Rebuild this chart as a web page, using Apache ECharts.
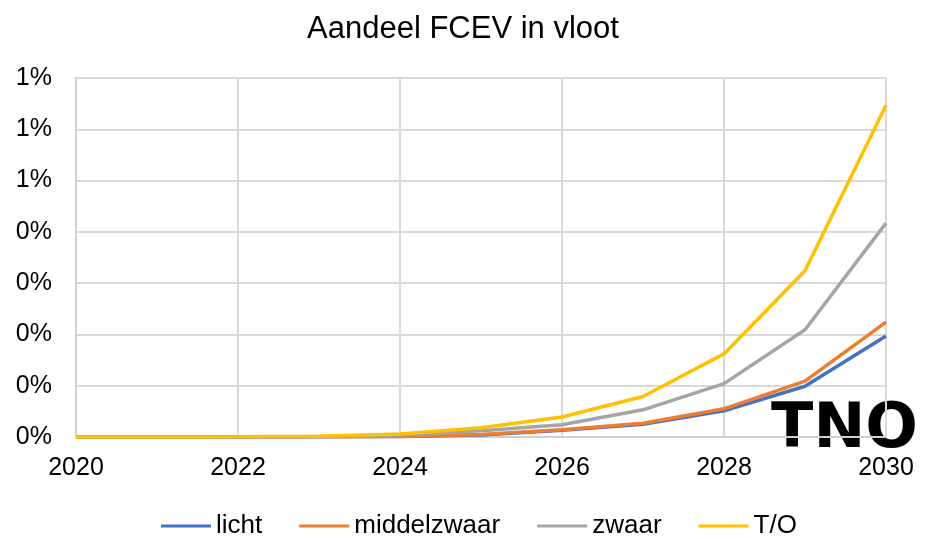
<!DOCTYPE html>
<html>
<head>
<meta charset="utf-8">
<script src="https://cdn.jsdelivr.net/npm/echarts@6/dist/echarts.min.js"></script>
<style>
  html, body { margin: 0; padding: 0; background: #fff; }
  #chart { width: 926px; height: 539px; }
</style>
</head>
<body>
<div id="chart"></div>
<script>
// share of FCEV in fleet, in percent
const years = ['2020', '2021', '2022', '2023', '2024', '2025', '2026', '2027', '2028', '2029', '2030']
const licht = [0, 0, 0.001, 0.003, 0.01, 0.04, 0.13, 0.25, 0.51, 0.99, 1.97]
const middelzwaar = [0, 0, 0.001, 0.003, 0.012, 0.05, 0.14, 0.27, 0.55, 1.09, 2.24]
const zwaar = [0, 0, 0.002, 0.01, 0.04, 0.12, 0.24, 0.53, 1.04, 2.09, 4.17]
const tO = [0, 0.002, 0.006, 0.015, 0.06, 0.18, 0.39, 0.79, 1.62, 3.24, 6.47]

const chart = echarts.init(document.getElementById('chart'))

const font = 'Liberation Sans, Arial, sans-serif'

function line(name, data, color) {
  return {
    name,
    type: 'line',
    data,
    symbol: 'none',
    lineStyle: { color, width: 3.5 },
    itemStyle: { color }
  }
}

chart.setOption({
  animation: false,
  title: {
    text: 'Aandeel FCEV in vloot',
    left: 'center',
    top: 9,
    textStyle: { fontFamily: font, fontSize: 31, fontWeight: 'normal', color: '#000' }
  },
  grid: { left: 76, right: 40, top: 78, bottom: 102 },
  legend: {
    top: 508,
    left: 156,
    itemWidth: 50,
    itemHeight: 3,
    itemGap: 37,
    icon: 'rect',
    textStyle: { fontFamily: font, fontSize: 26, color: '#000' },
    data: ['licht', 'middelzwaar', 'zwaar', 'T/O']
  },
  xAxis: {
    type: 'category',
    data: years,
    boundaryGap: false,
    axisLine: { lineStyle: { color: '#d0d0d0', width: 2 } },
    axisTick: { show: false },
    axisLabel: {
      interval: 1,
      fontFamily: font,
      fontSize: 25,
      color: '#000',
      margin: 19
    },
    splitLine: { show: true, interval: 1, lineStyle: { color: '#d9d9d9', width: 2 } }
  },
  yAxis: {
    type: 'value',
    min: 0,
    max: 7,
    interval: 1,
    axisLine: { show: true, lineStyle: { color: '#d0d0d0', width: 2 } },
    axisTick: { show: false },
    axisLabel: {
      fontFamily: font,
      fontSize: 25,
      color: '#000',
      margin: 24,
      formatter: v => Math.round(v / 10 + 1e-9) + '%'
    },
    splitLine: { lineStyle: { color: '#d9d9d9', width: 2 } }
  },
  series: [
    line('licht', licht, '#4472c4'),
    line('middelzwaar', middelzwaar, '#ed7d31'),
    line('zwaar', zwaar, '#a5a5a5'),
    line('T/O', tO, '#ffc000')
  ],
  graphic: [{
    type: 'text',
    right: 8,
    top: 400,
    style: {
      text: 'TNO',
      fontFamily: 'DejaVu Sans, sans-serif',
      fontWeight: 900,
      fontSize: 62,
      fill: '#000',
      letterSpacing: -11
    }
  }]
})
</script>
</body>
</html>
